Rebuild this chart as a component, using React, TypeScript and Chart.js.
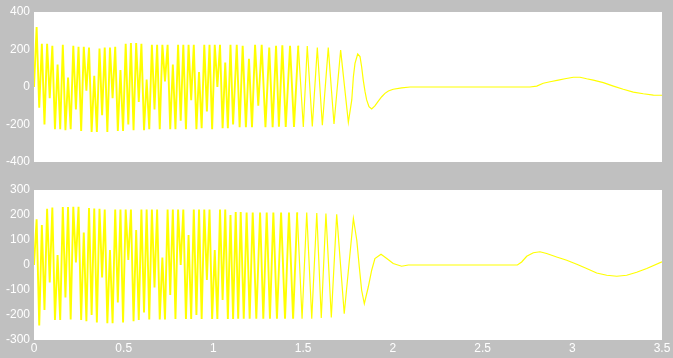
import React, { useEffect, useRef } from "react";
import { Chart, registerables } from "chart.js";

Chart.register(...registerables);

// time between successive extrema in the dense (fast) part of each trace, seconds
const SAMPLE_STEP = 0.0146;
// up to this time the fast oscillation is drawn with a heavier stroke
const FAST_UNTIL = 1.45;

const X_TICKS = [0, 0.5, 1, 1.5, 2, 2.5, 3, 3.5];
const TOP_Y_TICKS = [-400, -200, 0, 200, 400];
const BOTTOM_Y_TICKS = [-300, -200, -100, 0, 100, 200, 300];

// top trace: fast part (extrema), starting at t = 0
const topDense = [
  0, 320, -110, 230, -200, 230, -60, 220, -225, 120,
  -225, 225, -230, 50, -225, 220, -120, 215, -235, 215,
  -20, 210, -240, 60, -240, 205, -150, 210, -240, 210,
  -60, 215, -235, 90, -235, 230, -200, 235, -230, 235,
  -80, 230, -230, 40, -225, 225, -120, 225, -225, 225,
  30, 225, -225, 120, -225, 225, -180, 225, -225, 225,
  -70, 225, -225, 80, -220, 225, -130, 225, -225, 225,
  0, 225, -220, 130, -220, 225, -200,
];
// top trace: slowing part, decay and slow wave
const topTimes = [
  1.130, 1.146, 1.163, 1.181, 1.198, 1.215, 1.232, 1.250, 1.269, 1.290,
  1.311, 1.330, 1.349, 1.365, 1.384, 1.403, 1.427, 1.449, 1.473, 1.501,
  1.523, 1.551, 1.579, 1.607, 1.640, 1.672, 1.709, 1.752, 1.771, 1.780,
  1.789, 1.804, 1.817, 1.826, 1.835, 1.845, 1.854, 1.867, 1.882, 1.900,
  1.919, 1.938, 1.956, 1.975, 2.002, 2.049, 2.096, 2.764, 2.802, 2.838,
  2.876, 2.922, 2.959, 3.006, 3.043, 3.080, 3.117, 3.173, 3.229, 3.284,
  3.340, 3.396, 3.452, 3.500,
];
const topValues = [
  225, -215, 220, -215, 150, -215, 225, -100, 225, -215,
  210, -215, 220, -212, 222, -213, 220, -213, 220, -213,
  219, -211, 210, -204, 210, -197, 197, -188, -69, 55,
  126, 176, 162, 108, 37, -25, -69, -105, -117, -101,
  -75, -52, -34, -21, -12, -5, 0, 0, 5, 20,
  28, 37, 44, 52, 52, 44, 37, 23, 5, -12,
  -27, -36, -43, -44,
];

// bottom trace: fast part (extrema), starting at t = 0
const bottomDense = [
  0, 183, -242, 160, -180, 225, -70, 230, -220, 40,
  -220, 232, -130, 232, -218, 233, 10, 233, -220, 130,
  -225, 228, -200, 226, -230, 225, -50, 222, -233, 60,
  -233, 222, -150, 222, -230, 222, 20, 222, -225, 140,
  -220, 222, -190, 222, -218, 222, -90, 222, -218, 30,
  -218, 222, -120, 222, -216, 222, 0, 222, -216, 120,
  -216, 222, -200, 222, -216, 222, -60, 222, -216, 60,
  -216, 222, -140, 222, -216, 200, -216, 212,
];
const bottomTimes = [
  1.138, 1.152, 1.169, 1.185, 1.202, 1.219, 1.239, 1.260, 1.278, 1.297,
  1.315, 1.334, 1.354, 1.377, 1.399, 1.421, 1.444, 1.467, 1.494, 1.520,
  1.548, 1.576, 1.601, 1.627, 1.657, 1.687, 1.729, 1.780, 1.799, 1.813,
  1.826, 1.841, 1.863, 1.882, 1.900, 1.934, 1.966, 2.002, 2.049, 2.086,
  2.694, 2.718, 2.746, 2.783, 2.820, 2.857, 2.913, 2.969, 3.025, 3.080,
  3.136, 3.192, 3.248, 3.303, 3.359, 3.415, 3.500,
];
const bottomValues = [
  -215, 212, -215, 210, -215, 210, -215, 210, -215, 210,
  -215, 210, -215, 210, -215, 210, -215, 210, -215, 210,
  -215, 208, -212, 206, -210, 203, -195, 186, 99, -8,
  -101, -155, -88, -21, 26, 43, 26, 6, -5, 0,
  0, 12, 35, 49, 53, 46, 32, 19, 3, -14,
  -32, -41, -45, -41, -29, -14, 13,
];

function buildPoints(dense: number[], times: number[], values: number[]) {
  const pts = dense.map((v, i) => ({ x: i * SAMPLE_STEP, y: v }));
  times.forEach((t, i) => pts.push({ x: t, y: values[i] }));
  return pts;
}

const FONT = {
  family: "'Liberation Sans Narrow', 'Liberation Sans', Arial, sans-serif",
  size: 12,
};

const whiteArea = {
  id: "whiteArea",
  beforeDraw(chart: any) {
    const { ctx, chartArea } = chart;
    ctx.save();
    ctx.fillStyle = "#ffffff";
    ctx.fillRect(chartArea.left, chartArea.top, chartArea.right - chartArea.left, chartArea.bottom - chartArea.top);
    ctx.restore();
  },
};

function makeConfig(points: any[], yTicks: number[], showX: boolean, padTop: number, padBottom: number): any {
  return {
    type: "line",
    data: {
      datasets: [
        {
          data: points,
          borderColor: "#ffff00",
          borderWidth: 1.2,
          pointRadius: 0,
          tension: 0,
          fill: false,
          borderJoinStyle: "miter",
          segment: {
            borderWidth: (ctx: any) => (ctx.p0.parsed.x < FAST_UNTIL ? 1.9 : 1.2),
          },
        },
      ],
    },
    options: {
      animation: false,
      responsive: false,
      maintainAspectRatio: false,
      events: [],
      layout: { padding: { left: 0, right: 11, top: padTop, bottom: padBottom } },
      plugins: { legend: { display: false }, tooltip: { enabled: false } },
      scales: {
        x: {
          type: "linear",
          min: 0,
          max: 3.5,
          display: showX,
          grid: { display: false, drawTicks: false },
          border: { display: false },
          ticks: {
            color: "#ffffff",
            font: FONT,
            padding: 1,
            maxRotation: 0,
            autoSkip: false,
            callback: (v: any) => String(v),
          },
          afterBuildTicks: (a: any) => {
            a.ticks = X_TICKS.map((value) => ({ value }));
          },
          afterFit: (a: any) => {
            a.height = showX ? 18 : 0;
          },
        },
        y: {
          type: "linear",
          min: yTicks[0],
          max: yTicks[yTicks.length - 1],
          grid: { display: false, drawTicks: false },
          border: { display: false },
          ticks: {
            color: "#ffffff",
            font: FONT,
            padding: 4,
            autoSkip: false,
            callback: (v: any) => String(v),
          },
          afterBuildTicks: (a: any) => {
            a.ticks = yTicks.map((value) => ({ value }));
          },
          afterFit: (a: any) => {
            a.width = 34;
          },
        },
      },
    },
    plugins: [whiteArea],
  };
}

export default function App() {
  const topRef = useRef<HTMLCanvasElement>(null);
  const botRef = useRef<HTMLCanvasElement>(null);

  useEffect(() => {
    const c1 = new Chart(
      topRef.current as HTMLCanvasElement,
      makeConfig(buildPoints(topDense, topTimes, topValues), TOP_Y_TICKS, false, 12, 13)
    );
    const c2 = new Chart(
      botRef.current as HTMLCanvasElement,
      makeConfig(buildPoints(bottomDense, bottomTimes, bottomValues), BOTTOM_Y_TICKS, true, 15, 0)
    );
    return () => {
      c1.destroy();
      c2.destroy();
    };
  }, []);

  return (
    <div style={{ position: "fixed", left: 0, top: 0, width: 673, height: 358, background: "#c0c0c0" }}>
      <canvas
        ref={topRef}
        width={673}
        height={175}
        style={{ position: "absolute", left: 0, top: 0, width: 673, height: 175, display: "block" }}
      />
      <canvas
        ref={botRef}
        width={673}
        height={183}
        style={{ position: "absolute", left: 0, top: 175, width: 673, height: 183, display: "block" }}
      />
    </div>
  );
}
